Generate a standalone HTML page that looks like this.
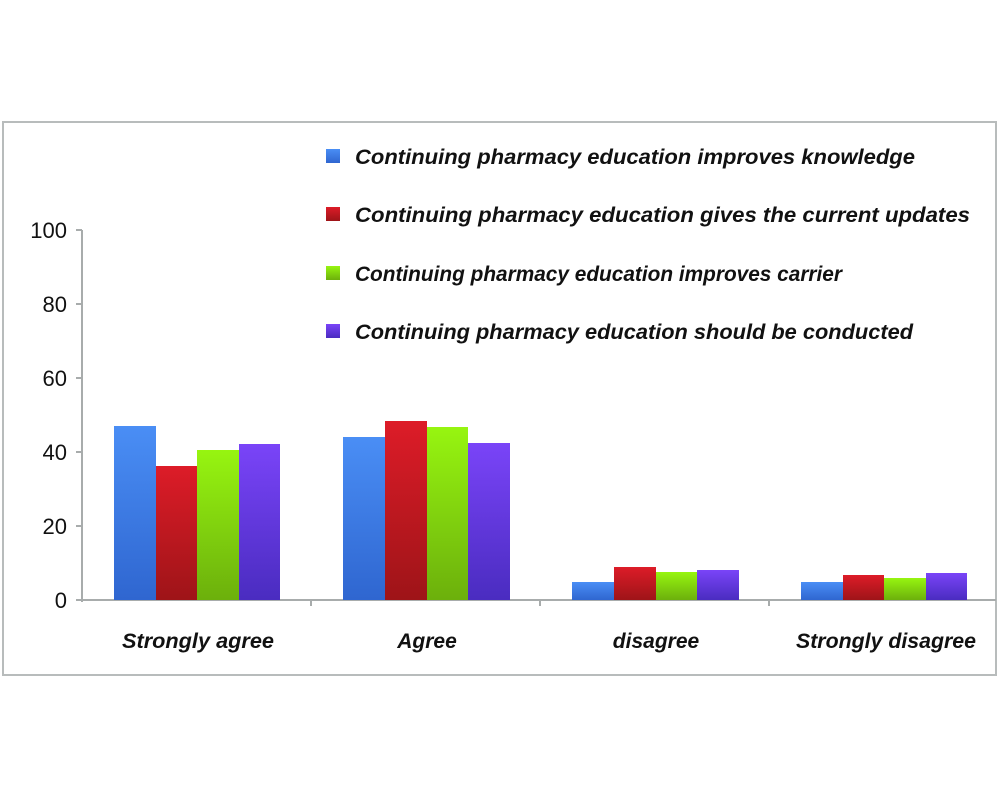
<!DOCTYPE html>
<html><head><style>body{margin:0;background:#fff}svg{display:block}</style></head><body>
<svg width="1000" height="800" xmlns="http://www.w3.org/2000/svg" font-family="Liberation Sans, sans-serif">
<defs>
<linearGradient id="b" x1="0" y1="0" x2="0" y2="1"><stop offset="0" stop-color="#4a8ef5"/><stop offset="1" stop-color="#2f66d0"/></linearGradient>
<linearGradient id="r" x1="0" y1="0" x2="0" y2="1"><stop offset="0" stop-color="#dd1c28"/><stop offset="1" stop-color="#9e1418"/></linearGradient>
<linearGradient id="g" x1="0" y1="0" x2="0" y2="1"><stop offset="0" stop-color="#97f510"/><stop offset="1" stop-color="#6cb00c"/></linearGradient>
<linearGradient id="p" x1="0" y1="0" x2="0" y2="1"><stop offset="0" stop-color="#7a44f8"/><stop offset="1" stop-color="#4a2cc0"/></linearGradient>
</defs>
<rect x="3" y="122" width="993" height="553" fill="none" stroke="#b8bcbc" stroke-width="2"/>
<g stroke="#a8acac" stroke-width="2" fill="none">
<line x1="82" y1="230" x2="82" y2="602"/>
<line x1="76" y1="600" x2="996" y2="600"/>
<line x1="76" y1="230" x2="82" y2="230"/><line x1="76" y1="304" x2="82" y2="304"/><line x1="76" y1="378" x2="82" y2="378"/><line x1="76" y1="452" x2="82" y2="452"/><line x1="76" y1="526" x2="82" y2="526"/>
<line x1="311" y1="600" x2="311" y2="606"/><line x1="540" y1="600" x2="540" y2="606"/><line x1="769" y1="600" x2="769" y2="606"/>
</g>
<g font-size="22" fill="#111" text-anchor="end">
<text x="67" y="238">100</text><text x="67" y="312">80</text><text x="67" y="386">60</text><text x="67" y="460">40</text><text x="67" y="534">20</text><text x="67" y="608">0</text>
</g>
<g>
<rect x="114" y="426" width="42" height="174" fill="url(#b)"/>
<rect x="156" y="466" width="41" height="134" fill="url(#r)"/>
<rect x="197" y="450" width="42" height="150" fill="url(#g)"/>
<rect x="239" y="444" width="41" height="156" fill="url(#p)"/>
<rect x="343" y="437" width="42" height="163" fill="url(#b)"/>
<rect x="385" y="421" width="42" height="179" fill="url(#r)"/>
<rect x="427" y="427" width="41" height="173" fill="url(#g)"/>
<rect x="468" y="443" width="42" height="157" fill="url(#p)"/>
<rect x="572" y="582" width="42" height="18" fill="url(#b)"/>
<rect x="614" y="567" width="42" height="33" fill="url(#r)"/>
<rect x="656" y="572" width="41" height="28" fill="url(#g)"/>
<rect x="697" y="570" width="42" height="30" fill="url(#p)"/>
<rect x="801" y="582" width="42" height="18" fill="url(#b)"/>
<rect x="843" y="575" width="41" height="25" fill="url(#r)"/>
<rect x="884" y="578" width="42" height="22" fill="url(#g)"/>
<rect x="926" y="573" width="41" height="27" fill="url(#p)"/>
</g>
<g font-size="21" font-style="italic" font-weight="bold" fill="#111" text-anchor="middle">
<text x="198" y="648" textLength="152" lengthAdjust="spacingAndGlyphs">Strongly agree</text>
<text x="427" y="648">Agree</text>
<text x="656" y="648">disagree</text>
<text x="886" y="648" textLength="180" lengthAdjust="spacingAndGlyphs">Strongly disagree</text>
</g>
<g font-size="21" font-style="italic" font-weight="bold" fill="#111">
<rect x="326" y="149" width="14" height="14" fill="url(#b)"/><text x="355" y="164" textLength="560" lengthAdjust="spacingAndGlyphs">Continuing pharmacy education improves knowledge</text>
<rect x="326" y="207" width="14" height="14" fill="url(#r)"/><text x="355" y="222" textLength="615" lengthAdjust="spacingAndGlyphs">Continuing pharmacy education gives the current updates</text>
<rect x="326" y="266" width="14" height="14" fill="url(#g)"/><text x="355" y="281" textLength="487" lengthAdjust="spacingAndGlyphs">Continuing pharmacy education improves carrier</text>
<rect x="326" y="324" width="14" height="14" fill="url(#p)"/><text x="355" y="339" textLength="558" lengthAdjust="spacingAndGlyphs">Continuing pharmacy education should be conducted</text>
</g>
</svg>
</body></html>
